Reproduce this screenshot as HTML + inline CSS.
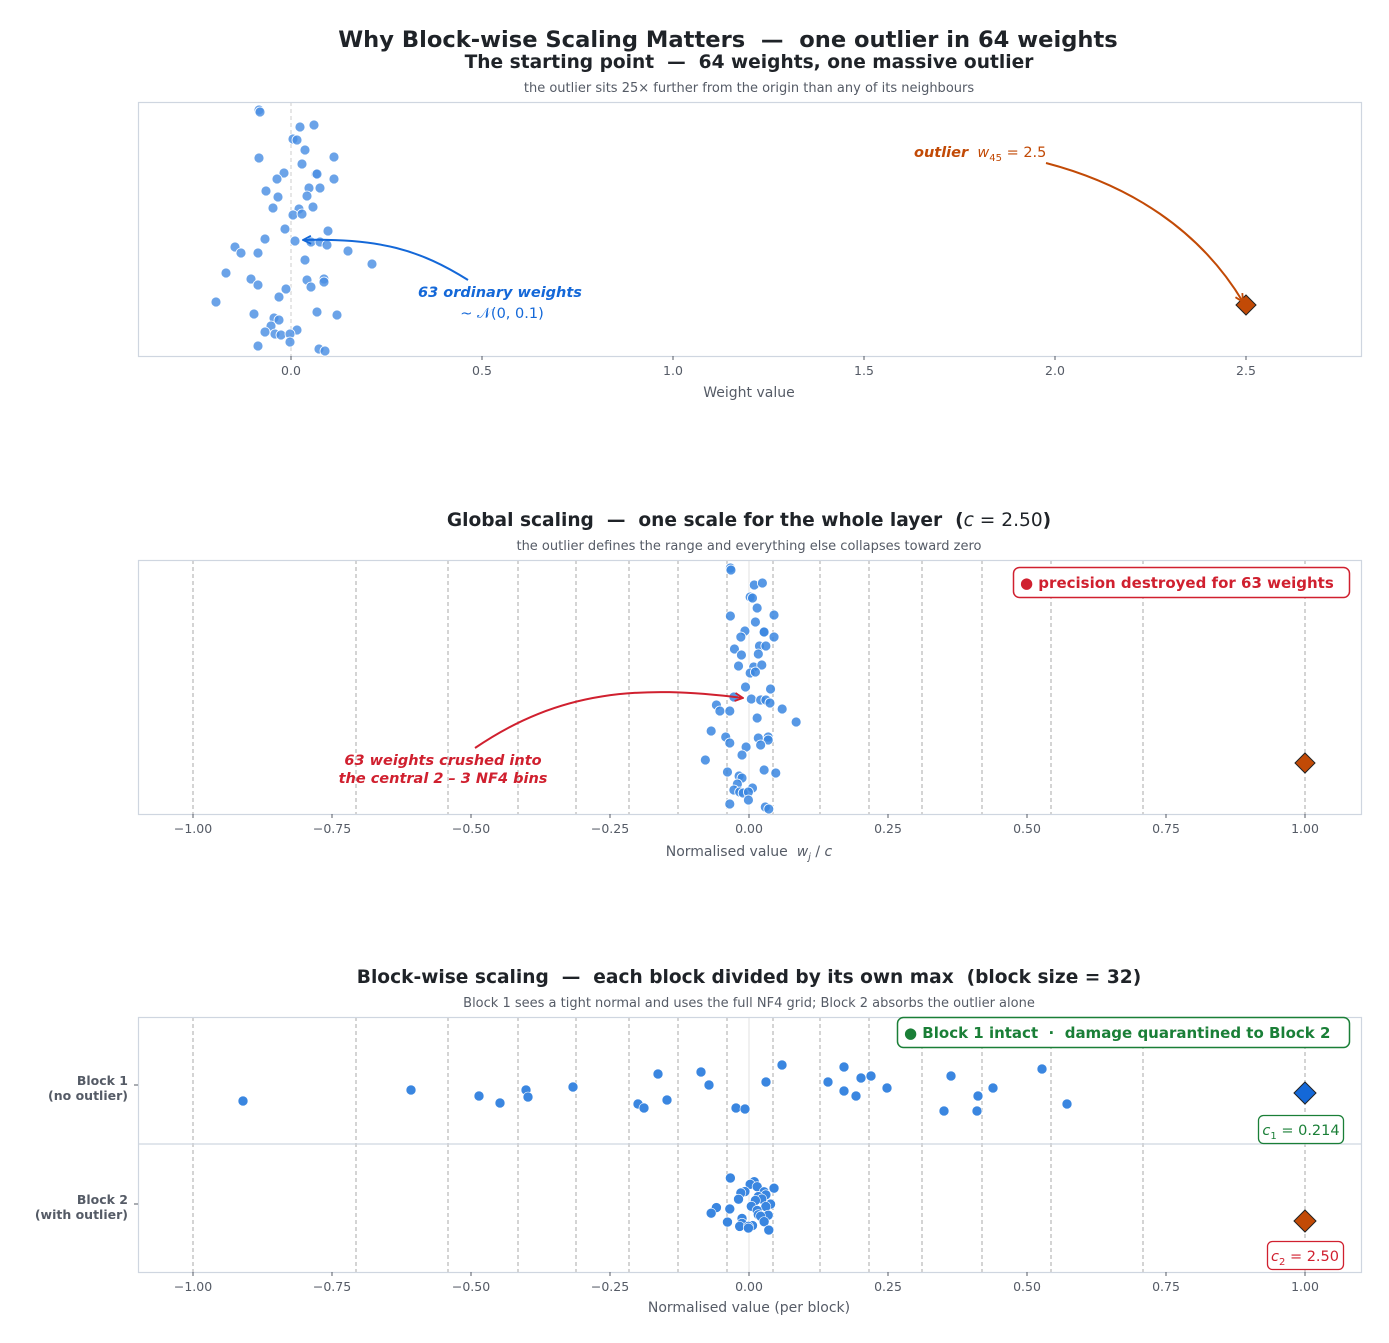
<!DOCTYPE html>
<html><head><meta charset="utf-8"><style>
body{margin:0;background:#fff}
svg{display:block;font-family:"DejaVu Sans","Liberation Sans",sans-serif}
text{white-space:pre}
</style></head><body>
<svg id="s" width="1389" height="1343" viewBox="0 0 1389 1343" xmlns="http://www.w3.org/2000/svg" xml:space="preserve">
<defs>
<marker id="ab" markerWidth="10" markerHeight="10" refX="9" refY="5" orient="auto" markerUnits="userSpaceOnUse"><path d="M1,1 L9,5 L1,9" fill="none" stroke="#1468d8" stroke-width="1.8"/></marker>
<marker id="ao" markerWidth="10" markerHeight="10" refX="9" refY="5" orient="auto" markerUnits="userSpaceOnUse"><path d="M1,1 L9,5 L1,9" fill="none" stroke="#c24a06" stroke-width="1.8"/></marker>
<marker id="ar" markerWidth="10" markerHeight="10" refX="9" refY="5" orient="auto" markerUnits="userSpaceOnUse"><path d="M1,1 L9,5 L1,9" fill="none" stroke="#d0202f" stroke-width="1.8"/></marker>
</defs>
<text x="728" y="47" text-anchor="middle" font-size="22.6" font-weight="bold" fill="#1f2328">Why Block-wise Scaling Matters  —  one outlier in 64 weights</text>
<text x="749" y="68" text-anchor="middle" font-size="18.6" font-weight="bold" fill="#1f2328">The starting point  —  64 weights, one massive outlier</text>
<text x="749" y="92" text-anchor="middle" font-size="13" fill="#555b66">the outlier sits 25× further from the origin than any of its neighbours</text>
<g id="p1"></g>
<text x="749" y="526" text-anchor="middle" font-size="18.6" font-weight="bold" fill="#1f2328">Global scaling  —  one scale for the whole layer  (<tspan font-style="italic" font-weight="normal">c</tspan><tspan font-weight="normal"> = 2.50</tspan>)</text>
<text x="749" y="550" text-anchor="middle" font-size="13" fill="#555b66">the outlier defines the range and everything else collapses toward zero</text>
<g id="p2"></g>
<text x="749" y="983" text-anchor="middle" font-size="18.6" font-weight="bold" fill="#1f2328">Block-wise scaling  —  each block divided by its own max  (block size = 32)</text>
<text x="749" y="1007" text-anchor="middle" font-size="13" fill="#555b66">Block 1 sees a tight normal and uses the full NF4 grid; Block 2 absorbs the outlier alone</text>
<g id="p3"></g>
</svg>
<script>
const NS="http://www.w3.org/2000/svg";
function el(p,t,a,txt){const e=document.createElementNS(NS,t);for(const k in a)e.setAttribute(k,a[k]);if(txt!=null)e.textContent=txt;document.getElementById(p).appendChild(e);return e;}
const P1=[[259,110],[260,112],[300,127],[314,125],[293,139],[297,140],[305,150],[259,158],[334,157],[302,164],[284,173],[316,174],[317,174],[334,179],[277,179],[309,188],[320,188],[266,191],[307,196],[278,197],[273,208],[299,209],[313,207],[293,215],[302,214],[285,229],[328,231],[265,239],[295,241],[311,242],[320,242],[327,245],[235,247],[241,253],[258,253],[348,251],[305,260],[372,264],[226,273],[251,279],[307,280],[324,279],[324,282],[258,285],[311,287],[286,289],[279,297],[216,302],[317,312],[337,315],[254,314],[274,318],[279,320],[271,326],[297,330],[265,332],[275,334],[281,335],[290,334],[258,346],[290,342],[319,349],[325,351]];
const grid=[193,356,448,518,576,629,678,727,773,820,869,922,982,1051,1143,1305];
function frame(p,y0,y1){el(p,'rect',{x:138.5,y:y0+.5,width:1223,height:y1-y0,fill:'none',stroke:'#cfd6e0','stroke-width':1.2});}
function ticks(p,y,list){for(const [x,l] of list){el(p,'line',{x1:x,x2:x,y1:y,y2:y+4,stroke:'#555b66'});el(p,'text',{x:x,y:y+19,'text-anchor':'middle','font-size':12.5,fill:'#555b66'},l);}}
el('p1','line',{x1:291,x2:291,y1:102,y2:356,stroke:'#cccccc','stroke-dasharray':'4,3'});
frame('p1',102,356);
for(const [x,y] of P1)el('p1','circle',{cx:x,cy:y,r:5,fill:'#4a8fe3','fill-opacity':.82,stroke:'#fff','stroke-width':.8});
el('p1','path',{d:'M1246,295 l10,10 l-10,10 l-10,-10z',fill:'#c24a06',stroke:'#222','stroke-width':1});
ticks('p1',356,[[291,'0.0'],[482,'0.5'],[673,'1.0'],[864,'1.5'],[1055,'2.0'],[1246,'2.5']]);
el('p1','text',{x:749,y:397,'text-anchor':'middle','font-size':14,fill:'#555b66'},'Weight value');
el('p1','path',{d:'M468,280 C420,250 380,238 303,240',fill:'none',stroke:'#1468d8','stroke-width':2,'marker-end':'url(#ab)'});
el('p1','text',{x:500,y:297,'text-anchor':'middle','font-size':14.5,'font-weight':'bold','font-style':'italic',fill:'#1468d8'},'63 ordinary weights');
el('p1','text',{x:502,y:318,'text-anchor':'middle','font-size':14.5,fill:'#1468d8'},'~ 𝒩(0, 0.1)');
el('p1','path',{d:'M1046,163 C1130,185 1200,230 1243,302',fill:'none',stroke:'#c24a06','stroke-width':2,'marker-end':'url(#ao)'});
const t=el('p1','text',{x:914,y:157,'font-size':14.5,fill:'#c24a06'});
t.innerHTML='<tspan font-weight="bold" font-style="italic">outlier</tspan><tspan>  </tspan><tspan font-style="italic">w</tspan><tspan font-size="10" dy="4">45</tspan><tspan dy="-4"> = 2.5</tspan>';
function grids(p,y0,y1){for(const x of grid)el(p,'line',{x1:x,x2:x,y1:y0,y2:y1,stroke:'#a0a0a0','stroke-dasharray':'4,3','stroke-width':0.9});el(p,'line',{x1:749,x2:749,y1:y0,y2:y1,stroke:'#e2e2e2','stroke-width':1});}
const nt=[[193,'−1.00'],[332,'−0.75'],[471,'−0.50'],[610,'−0.25'],[749,'0.00'],[888,'0.25'],[1027,'0.50'],[1166,'0.75'],[1305,'1.00']];
grids('p2',560,814);frame('p2',560,814);
for(const [x,y] of P1)el('p2','circle',{cx:749+(x-291)*0.582,cy:y+458,r:5,fill:'#3a86e0','fill-opacity':.85,stroke:'#fff','stroke-width':.8});
el('p2','path',{d:'M1305,753 l10,10 l-10,10 l-10,-10z',fill:'#c24a06',stroke:'#222','stroke-width':1});
ticks('p2',814,nt);
const xl=el('p2','text',{x:749,y:856,'text-anchor':'middle','font-size':14,fill:'#555b66'});xl.innerHTML='<tspan>Normalised value  </tspan><tspan font-style="italic">w</tspan><tspan font-size="10" dy="4" font-style="italic">j</tspan><tspan dy="-4"> / </tspan><tspan font-style="italic">c</tspan>';
el('p2','path',{d:'M475,748 C560,690 640,685 743,698',fill:'none',stroke:'#d0202f','stroke-width':2,'marker-end':'url(#ar)'});
el('p2','text',{x:443,y:765,'text-anchor':'middle','font-size':14.5,'font-weight':'bold','font-style':'italic',fill:'#d0202f'},'63 weights crushed into');
el('p2','text',{x:443,y:783,'text-anchor':'middle','font-size':14.5,'font-weight':'bold','font-style':'italic',fill:'#d0202f'},'the central 2 – 3 NF4 bins');
el('p2','rect',{x:1013.5,y:567.5,width:336,height:30,rx:6,fill:'#fff',stroke:'#d0202f','stroke-width':1.5});
el('p2','text',{x:1020,y:588,'font-size':15,'font-weight':'bold',fill:'#d0202f'},'● precision destroyed for 63 weights');
grids('p3',1017,1272);frame('p3',1017,1272);
el('p3','line',{x1:138,x2:1361,y1:1144,y2:1144,stroke:'#cfd6e0','stroke-width':1.2});
const B1=[[243,1101],[411,1090],[479,1096],[500,1103],[526,1090],[528,1097],[573,1087],[638,1104],[644,1108],[658,1074],[667,1100],[701,1072],[709,1085],[736,1108],[745,1109],[766,1082],[782,1065],[828,1082],[844,1067],[844,1091],[856,1096],[861,1078],[871,1076],[887,1088],[944,1111],[951,1076],[978,1096],[977,1111],[993,1088],[1042,1069],[1067,1104]];
for(const [x,y] of B1)el('p3','circle',{cx:x,cy:y,r:5,fill:'#3a86e0',stroke:'#fff','stroke-width':.6});
P1.forEach(([x,y],i)=>{if(i%2==0)el('p3','circle',{cx:749+(x-291)*0.582,cy:1178+(y-110)*0.216,r:5,fill:'#3a86e0',stroke:'#fff','stroke-width':.6});});
el('p3','path',{d:'M1305,1082 l11,11 l-11,11 l-11,-11z',fill:'#1468d8',stroke:'#222','stroke-width':1});
el('p3','path',{d:'M1305,1210 l11,11 l-11,11 l-11,-11z',fill:'#c24a06',stroke:'#222','stroke-width':1});
ticks('p3',1272,nt);
el('p3','text',{x:749,y:1312,'text-anchor':'middle','font-size':14,fill:'#555b66'},'Normalised value (per block)');
el('p3','text',{x:128,y:1085,'text-anchor':'end','font-size':12.5,'font-weight':'bold',fill:'#555b66'},'Block 1');
el('p3','text',{x:128,y:1100,'text-anchor':'end','font-size':12.5,'font-weight':'bold',fill:'#555b66'},'(no outlier)');
el('p3','text',{x:128,y:1204,'text-anchor':'end','font-size':12.5,'font-weight':'bold',fill:'#555b66'},'Block 2');
el('p3','text',{x:128,y:1219,'text-anchor':'end','font-size':12.5,'font-weight':'bold',fill:'#555b66'},'(with outlier)');
el('p3','line',{x1:134,x2:138,y1:1085,y2:1085,stroke:'#555b66'});el('p3','line',{x1:134,x2:138,y1:1204,y2:1204,stroke:'#555b66'});
el('p3','rect',{x:897.5,y:1017.5,width:452,height:30,rx:6,fill:'#fff',stroke:'#1a7f37','stroke-width':1.5});
el('p3','text',{x:904,y:1038,'font-size':15,'font-weight':'bold',fill:'#1a7f37'},'● Block 1 intact  ·  damage quarantined to Block 2');
el('p3','rect',{x:1258.5,y:1115.5,width:85,height:28,rx:5,fill:'#fff',stroke:'#1a7f37','stroke-width':1.3});
const c1=el('p3','text',{x:1301,y:1135,'text-anchor':'middle','font-size':14.5,fill:'#1a7f37'});c1.innerHTML='<tspan font-style="italic">c</tspan><tspan font-size="10" dy="4">1</tspan><tspan dy="-4"> = 0.214</tspan>';
el('p3','rect',{x:1267.5,y:1241.5,width:76,height:28,rx:5,fill:'#fff',stroke:'#d0202f','stroke-width':1.3});
const c2=el('p3','text',{x:1305,y:1261,'text-anchor':'middle','font-size':14.5,fill:'#d0202f'});c2.innerHTML='<tspan font-style="italic">c</tspan><tspan font-size="10" dy="4">2</tspan><tspan dy="-4"> = 2.50</tspan>';
</script>
</body></html>
